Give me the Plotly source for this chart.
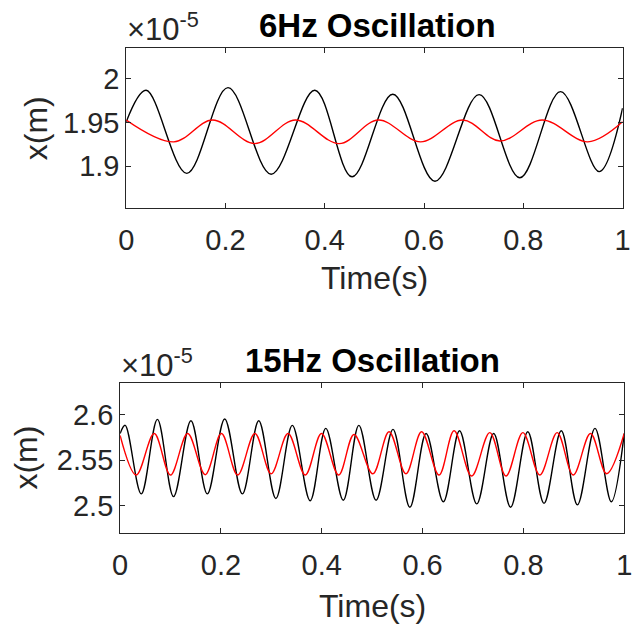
import plotly.graph_objects as go

# ---------------- data (x values in units of 1e-5 m) ----------------
# 6 Hz oscillation (start, peaks/troughs, end)
t6_black = [0.000, 0.040, 0.122, 0.205, 0.292, 0.380, 0.455, 0.537, 0.622,
            0.711, 0.793, 0.875, 0.953, 1.000]
x6_black = [1.951, 1.987, 1.892, 1.990, 1.891, 1.987, 1.888, 1.9825, 1.883,
            1.982, 1.887, 1.9855, 1.894, 1.9665]

t6_red = [0.000, 0.096, 0.174, 0.259, 0.341, 0.429, 0.508, 0.593, 0.678,
          0.753, 0.838, 0.930, 1.000]
x6_red = [1.953, 1.928, 1.953, 1.926, 1.953, 1.926, 1.953, 1.928, 1.953,
          1.929, 1.953, 1.928, 1.951]

# 15 Hz oscillation
t15_black = [0.000, 0.010, 0.042, 0.074, 0.106, 0.1405, 0.173, 0.2075, 0.2425,
             0.275, 0.309, 0.3416, 0.377, 0.408, 0.4427, 0.4736, 0.5078, 0.5413,
             0.5748, 0.607, 0.6412, 0.6733, 0.7075, 0.741, 0.7746, 0.8087,
             0.8409, 0.8751, 0.9072, 0.942, 0.9743, 1.000]
x15_black = [2.579, 2.588, 2.513, 2.5945, 2.510, 2.593, 2.513, 2.595, 2.513,
             2.593, 2.508, 2.588, 2.5055, 2.5847, 2.506, 2.588, 2.506, 2.5836,
             2.4983, 2.579, 2.5044, 2.582, 2.502, 2.579, 2.4983, 2.581,
             2.5026, 2.582, 2.501, 2.5847, 2.5044, 2.579]

t15_red = [0.000, 0.032, 0.0677, 0.0999, 0.134, 0.1688, 0.201, 0.2332, 0.2674,
           0.2996, 0.3331, 0.3673, 0.3995, 0.4336, 0.464, 0.5013, 0.5335, 0.567,
           0.598, 0.6327, 0.6625, 0.6973, 0.7333, 0.7655, 0.799, 0.8326, 0.867,
           0.8989, 0.9331, 0.9652, 1.000]
x15_red = [2.577, 2.5336, 2.579, 2.5336, 2.579, 2.534, 2.579, 2.5336, 2.579,
           2.535, 2.579, 2.5336, 2.579, 2.5336, 2.578, 2.535, 2.581, 2.535,
           2.581, 2.5336, 2.582, 2.5325, 2.580, 2.5325, 2.580, 2.5336, 2.580,
           2.5336, 2.579, 2.535, 2.579]

time_ticks = [0, 0.2, 0.4, 0.6, 0.8, 1]
time_tick_text = ["0", "0.2", "0.4", "0.6", "0.8", "1"]
y6_ticks = [1.9, 1.95, 2.0]
y15_ticks = [2.5, 2.55, 2.6]

titles = ["6Hz Oscillation", "15Hz Oscillation"]
x_label = "Time(s)"
y_label = "x(m)"
exponent_label = "×10<sup>-5</sup>"

# ---------------- figure ----------------
W, H = 637, 628
FONT = "Liberation Sans, Arial, Helvetica, sans-serif"
AX = "#262626"

fig = go.Figure()
line_w = 1.4
fig.add_trace(go.Scatter(x=t6_black, y=x6_black, mode="lines", xaxis="x", yaxis="y",
                         line=dict(color="black", width=line_w, shape="spline", smoothing=1)))
fig.add_trace(go.Scatter(x=t6_red, y=x6_red, mode="lines", xaxis="x", yaxis="y",
                         line=dict(color="#ff0000", width=line_w, shape="spline", smoothing=1)))
fig.add_trace(go.Scatter(x=t15_black, y=x15_black, mode="lines", xaxis="x2", yaxis="y2",
                         line=dict(color="black", width=line_w, shape="spline", smoothing=1)))
fig.add_trace(go.Scatter(x=t15_red, y=x15_red, mode="lines", xaxis="x2", yaxis="y2",
                         line=dict(color="#ff0000", width=line_w, shape="spline", smoothing=1)))

common = dict(showline=True, linecolor=AX, linewidth=1, mirror="ticks", ticks="inside",
              ticklen=5, tickcolor=AX, tickwidth=1, showgrid=False, zeroline=False,
              tickfont=dict(family=FONT, size=29, color=AX))
xcommon = dict(common, ticklabelstandoff=6, ticktext=time_tick_text,
               ticklabeloverflow="allow")

# pixel boxes
top_box = dict(l=121.3, r=630.6, t=48.3, b=208.3)
bot_box = dict(l=115.0, r=632.3, t=383.3, b=532.7)

def xdom(b):
    return [b["l"] / W, b["r"] / W]

def ydom(b):
    return [(H - b["b"]) / H, (H - b["t"]) / H]

fig.update_layout(
    width=W, height=H, margin=dict(l=0, r=0, t=0, b=0),
    paper_bgcolor="white", plot_bgcolor="white", showlegend=False,
    font=dict(family=FONT, color=AX),
    xaxis=dict(domain=xdom(top_box), range=[0, 1.0004], tickvals=time_ticks, anchor="y", **xcommon),
    yaxis=dict(domain=ydom(top_box), range=[1.852, 2.035], tickvals=y6_ticks, anchor="x", **common),
    xaxis2=dict(domain=xdom(bot_box), range=[0, 1.0004], tickvals=time_ticks, anchor="y2", **xcommon),
    yaxis2=dict(domain=ydom(bot_box), range=[2.4705, 2.634], tickvals=y15_ticks, anchor="x2", **common),
)

def ann(text, px, py, size, bold=False, color=AX, angle=0, xanchor="center", yanchor="middle"):
    fig.add_annotation(text=("<b>%s</b>" % text) if bold else text,
                       x=px / W, y=(H - py) / H, xref="paper", yref="paper",
                       showarrow=False, textangle=angle, xanchor=xanchor, yanchor=yanchor,
                       font=dict(family=FONT, size=size, color=color))

# titles
ann(titles[0], 379, 25, 33, bold=True, color="black")
ann(titles[1], 374, 360, 33, bold=True, color="black")
# axis labels
ann(x_label, 376, 278, 32)
ann(x_label, 374, 606, 32)
ann(y_label, 29, 128, 32, angle=-90)
ann(y_label, 18, 458, 32, angle=-90)
# exponent labels
ann(exponent_label, 120, 49, 31, xanchor="left", yanchor="bottom")
ann(exponent_label, 114, 385, 31, xanchor="left", yanchor="bottom")

fig.write_html("out.html")
